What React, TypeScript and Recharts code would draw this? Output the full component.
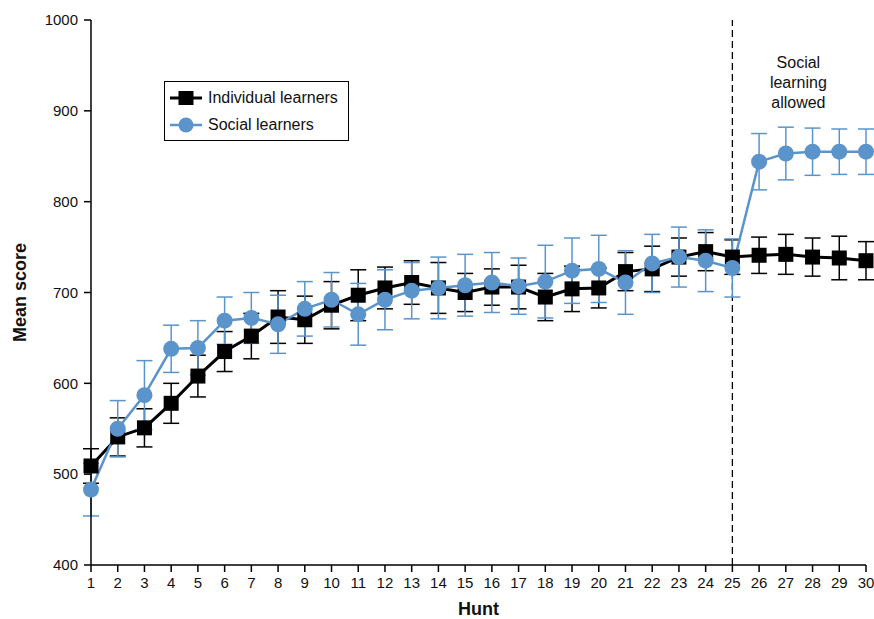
import { ErrorBar, Line, LineChart, ReferenceLine, XAxis, YAxis } from "recharts";

const hunts = [1, 2, 3, 4, 5, 6, 7, 8, 9, 10, 11, 12, 13, 14, 15, 16, 17, 18, 19, 20, 21, 22, 23, 24, 25, 26, 27, 28, 29, 30];
const individualScores = [509, 541, 551, 578, 608, 635, 652, 673, 670, 686, 697, 705, 711, 705, 700, 706, 706, 695, 704, 705, 723, 726, 739, 745, 739, 741, 742, 739, 738, 735];
const individualErrors = [19, 21, 21, 22, 23, 22, 25, 29, 26, 26, 28, 23, 24, 28, 21, 20, 24, 26, 25, 22, 21, 25, 21, 21, 19, 20, 22, 21, 24, 21];
const socialScores = [483, 550, 587, 638, 639, 669, 672, 665, 682, 692, 676, 692, 702, 705, 708, 711, 707, 712, 724, 726, 711, 732, 739, 735, 727, 844, 853, 855, 855, 855];
const socialErrors = [29, 31, 38, 26, 30, 26, 28, 32, 30, 30, 34, 33, 31, 34, 34, 33, 31, 40, 36, 37, 35, 32, 33, 34, 32, 31, 29, 26, 25, 25];
const yTicks = [400, 500, 600, 700, 800, 900, 1000];

const BLUE = "#5b94cb";
const FONT = "'Liberation Sans', Arial, sans-serif";

const data = hunts.map((hunt, i) => ({
  hunt,
  individual: individualScores[i],
  individualErr: individualErrors[i],
  social: socialScores[i],
  socialErr: socialErrors[i],
}));

function SquareDot(props: any) {
  const { cx, cy } = props;
  if (cx == null || cy == null) return null;
  return <rect x={cx - 7.5} y={cy - 7.5} width={15} height={15} fill="#000" />;
}

// drawn over the plot, top-left, like the original figure
function LegendBox() {
  return (
    <div
      style={{
        position: "absolute",
        left: 164,
        top: 81,
        width: 185,
        height: 60,
        border: "1px solid #000",
        background: "#fff",
        boxSizing: "border-box",
        fontFamily: FONT,
        fontSize: 16,
        color: "#111",
        padding: "2px 0 0 5px",
      }}
    >
      <div style={{ display: "flex", alignItems: "center", height: 27 }}>
        <svg width={32} height={16} style={{ marginRight: 6 }}>
          <line x1={0} y1={8} x2={32} y2={8} stroke="#000" strokeWidth={3} />
          <rect x={8.5} y={1} width={15} height={14} fill="#000" />
        </svg>
        <span>Individual learners</span>
      </div>
      <div style={{ display: "flex", alignItems: "center", height: 27 }}>
        <svg width={32} height={16} style={{ marginRight: 6 }}>
          <line x1={0} y1={8} x2={32} y2={8} stroke={BLUE} strokeWidth={2.5} />
          <circle cx={16} cy={8} r={7.5} fill={BLUE} />
        </svg>
        <span>Social learners</span>
      </div>
    </div>
  );
}

function PhaseLabel(props: any) {
  const { viewBox } = props;
  const x = viewBox.x + 66;
  const y = viewBox.y + 48;
  return (
    <text x={x} y={y} textAnchor="middle" fontFamily={FONT} fontSize={16} fill="#111">
      <tspan x={x} dy={0}>Social</tspan>
      <tspan x={x} dy={20}>learning</tspan>
      <tspan x={x} dy={20}>allowed</tspan>
    </text>
  );
}

export default function App() {
  return (
    <div style={{ position: "absolute", left: 0, top: 0, width: 874, height: 619, background: "#fff" }}>
      <LineChart width={874} height={619} data={data} margin={{ top: 20, right: 8, bottom: 1, left: 13 }}>
        <XAxis
          dataKey="hunt"
          type="number"
          domain={[1, 30]}
          ticks={hunts}
          interval={0}
          height={53}
          stroke="#000"
          strokeWidth={1.5}
          tickSize={7}
          tickMargin={5}
          tick={{ fill: "#111", fontSize: 15, fontFamily: FONT }}
          label={{ value: "Hunt", position: "insideBottom", offset: 3, fill: "#111", fontSize: 18, fontWeight: "bold", fontFamily: FONT }}
        />
        <YAxis
          type="number"
          domain={[400, 1000]}
          ticks={yTicks}
          interval={0}
          width={78}
          stroke="#000"
          strokeWidth={1.5}
          tickSize={7}
          tickMargin={6}
          tick={{ fill: "#111", fontSize: 15, fontFamily: FONT }}
          label={{
            value: "Mean score",
            angle: -90,
            position: "insideLeft",
            offset: 7,
            style: { textAnchor: "middle" },
            fill: "#111",
            fontSize: 18,
            fontWeight: "bold",
            fontFamily: FONT,
          }}
        />
        <ReferenceLine x={25} stroke="#000" strokeWidth={1.3} strokeDasharray="7 4" label={<PhaseLabel />} />
        <Line
          dataKey="individual"
          name="Individual learners"
          stroke="#000"
          strokeWidth={3}
          dot={<SquareDot />}
          activeDot={false}
          isAnimationActive={false}
        >
          <ErrorBar dataKey="individualErr" direction="y" width={8} stroke="#000" strokeWidth={1.5} />
        </Line>
        <Line
          dataKey="social"
          name="Social learners"
          stroke={BLUE}
          strokeWidth={2.5}
          dot={{ r: 8, fill: BLUE, stroke: "none" }}
          activeDot={false}
          isAnimationActive={false}
        >
          <ErrorBar dataKey="socialErr" direction="y" width={8} stroke={BLUE} strokeWidth={1.5} />
        </Line>
      </LineChart>
      <LegendBox />
    </div>
  );
}
